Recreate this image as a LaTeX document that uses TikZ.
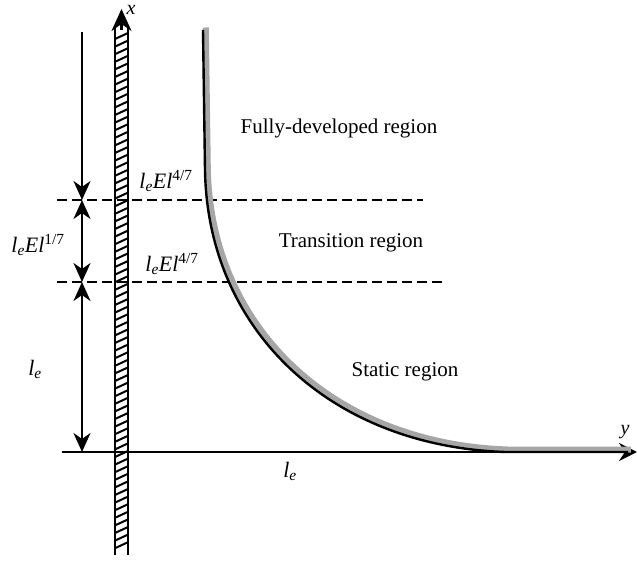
\documentclass[tikz,border=0pt]{standalone}
\usepackage{fontspec}
\setmainfont{Liberation Serif}
\usetikzlibrary{arrows.meta}
\newcommand{\lab}[2]{\textit{l}\textsubscript{\textit{e}}\textit{El}\textsuperscript{#1/#2}}
\begin{document}
\begin{tikzpicture}[x=1pt,y=-1pt,
  txt/.style={font=\fontsize{21}{24}\selectfont, inner sep=0pt},
  mth/.style={font=\fontsize{22}{25}\selectfont, inner sep=0pt},
  thick line/.style={line width=2.6pt},
  dimarrow/.style={line width=2.8pt, {Stealth[length=19pt,width=17pt,inset=6pt]}-{Stealth[length=19pt,width=17pt,inset=6pt]}},
  dimdown/.style={line width=2.8pt, -{Stealth[length=19pt,width=17pt,inset=6pt]}},
  dashline/.style={line width=2.8pt, dash pattern=on 10pt off 5pt},
  hatch/.style={line width=2pt}
]
\useasboundingbox (0,0) rectangle (637,561);
% coordinates
\coordinate (wallLtop) at (115,28);
\coordinate (wallLbot) at (115,555);
\coordinate (wallRtop) at (128,28);
\coordinate (wallRbot) at (128,555);
\coordinate (xtip) at (121.5,9);
\coordinate (xbase) at (121.5,30);
\coordinate (yaxL) at (62,452);
\coordinate (yaxR) at (637,452);
\coordinate (d0) at (82,32);
\coordinate (d1) at (82,200);
\coordinate (d2) at (82,282);
\coordinate (d3) at (82,452);
\coordinate (h1L) at (57,200);
\coordinate (h1R) at (423,200);
\coordinate (h2L) at (57,282);
\coordinate (h2R) at (446,282);

% wall
\draw[thick line] (wallLtop) -- (wallLbot);
\draw[thick line] (wallRtop) -- (wallRbot);
\foreach \yy in {36,43.6,...,552} {
  \draw[hatch] (115,\yy+3) -- (128,\yy-3);
}
\draw[line width=2.6pt, -{Stealth[length=22pt,width=20pt,inset=7pt]}] (xbase) -- (xtip);
\node[font=\fontsize{20}{24}\selectfont\itshape, inner sep=0pt] (xlab) at (131,10) {x};

% y axis
\draw[line width=2.4pt, -{Stealth[length=18pt,width=18pt,inset=6pt]}] (yaxL) -- (yaxR);
\node[font=\fontsize{20}{24}\selectfont\itshape, inner sep=0pt] (ylab) at (625,432) {y};

% dashed lines
\draw[dashline] (h1L) -- (h1R);
\draw[dashline] (h2L) -- (h2R);

% dimension arrows
\draw[dimdown] (d0) -- (d1);
\draw[dimarrow] (d1) -- (d2);
\draw[dimarrow] (d2) -- (d3);

% curve
\draw[line width=6pt, gray!70, xshift=2.8pt, yshift=2.5pt] (203,30) -- (205,170) .. controls (207.5,330) and (330,446) .. (505,452) -- (628,452);
\draw[line width=2.4pt] (203,30) -- (205,170) .. controls (207.5,330) and (330,446) .. (505,452) -- (628,452);

% labels
\node[txt] (fd) at (339,128) {Fully-developed region};
\node[txt] (tr) at (351,243) {Transition region};
\node[txt] (st) at (405,372) {Static region};
\node[mth] (a1) at (166,181) {\lab{4}{7}};
\node[mth] (a2) at (172,264) {\lab{4}{7}};
\node[mth] (a3) at (38,245) {\lab{1}{7}};
\node[mth] (le1) at (35,369) {\textit{l}\textsubscript{\textit{e}}};
\node[mth] (le2) at (290,471) {\textit{l}\textsubscript{\textit{e}}};
\end{tikzpicture}
\end{document}
